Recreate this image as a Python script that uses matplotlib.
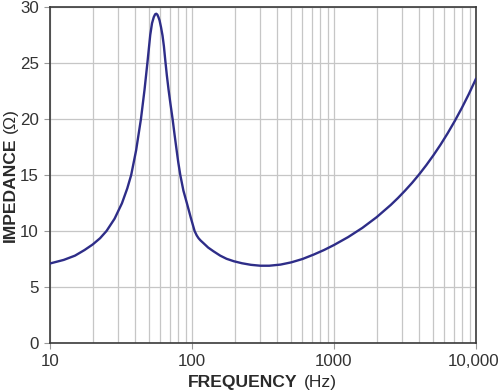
import matplotlib
matplotlib.use("Agg")
import matplotlib.pyplot as plt
import matplotlib.transforms as mtransforms
from matplotlib.ticker import FixedLocator, NullFormatter, LogLocator

plt.rcParams['font.family'] = ['Liberation Sans', 'DejaVu Sans']

# values (Hz, ohms)
freq = [10, 12.5, 15, 17.5, 20, 22.5, 25, 28.5, 32.1, 35, 37.3, 40.4, 43.7,
        46.3, 48.6, 50.8, 52.3, 53.8, 55, 56, 57, 58, 59.1, 60.5, 62, 63.4,
        64.8, 66.5, 68.4, 70.6, 73, 75.2, 77.4, 80, 82.7, 87, 92.2, 98,
        104.3, 108, 111.3, 115, 120.8, 130, 142, 158, 175, 197, 225, 260,
        303, 350, 420, 500, 600, 721, 850, 1000, 1259, 1585, 1995, 2512,
        2818, 3162, 3548, 3981, 4467, 5012, 5623, 6310, 7079, 7943, 8913,
        10000]
impedance = [7.1, 7.42, 7.8, 8.3, 8.8, 9.35, 10.0, 11.1, 12.47, 13.8, 15.0,
             17.2, 20.0, 22.6, 25.1, 27.5, 28.55, 29.1, 29.35, 29.4, 29.32,
             29.1, 28.8, 28.2, 27.45, 26.5, 25.27, 23.9, 22.6, 21.3, 20.0,
             18.7, 17.5, 16.15, 15.0, 13.6, 12.45, 11.2, 10.0, 9.6, 9.35,
             9.15, 8.9, 8.52, 8.18, 7.8, 7.52, 7.3, 7.12, 6.98, 6.9, 6.9,
             7.0, 7.2, 7.5, 7.9, 8.3, 8.75, 9.46, 10.28, 11.23, 12.33, 12.94,
             13.6, 14.3, 15.06, 15.88, 16.76, 17.7, 18.72, 19.81, 20.98,
             22.24, 23.6]

xticks = [10, 100, 1000, 10000]
xticklabels = ["10", "100", "1000", "10,000"]
yticks = [0, 5, 10, 15, 20, 25, 30]

fig = plt.figure(figsize=(5, 3.91), dpi=100)
ax = fig.add_axes([50 / 500, 48 / 391, 426 / 500, 336 / 391])

ax.plot(freq, impedance, color='#2e2d88', lw=1.7, zorder=3,
        solid_capstyle='round', solid_joinstyle='round')

ax.set_xscale('log')
ax.set_xlim(10, 10000)
ax.set_ylim(0, 30)

ax.xaxis.set_major_locator(FixedLocator(xticks))
ax.set_xticklabels(xticklabels)
ax.xaxis.set_minor_locator(LogLocator(base=10, subs=range(2, 10)))
ax.xaxis.set_minor_formatter(NullFormatter())
ax.set_yticks(yticks)

ax.grid(True, which='both', axis='x', color='#c6c6c6', lw=0.9, zorder=0)
ax.grid(True, which='major', axis='y', color='#c6c6c6', lw=0.9, zorder=0)

for s in ax.spines.values():
    s.set_color('#3a3a3a')
    s.set_linewidth(1.2)

ax.tick_params(which='major', length=4, width=0.8, color='#999999',
               labelsize=12.2, labelcolor='#333333', pad=4)
ax.tick_params(which='minor', length=0)

# nudge "10,000" a little left so it stays inside the figure
last = ax.get_xticklabels()[-1]
last.set_transform(last.get_transform() +
                   mtransforms.ScaledTranslation(-2 / 100, 0, fig.dpi_scale_trans))

# axis titles: bold word followed by plain unit
fig.text(188 / 500, (391 - 386.7) / 391, "FREQUENCY", fontsize=12.6,
         fontweight='bold', color='#2a2a2a', ha='left', va='baseline')
fig.text(304 / 500, (391 - 386.7) / 391, "(Hz)", fontsize=12.6,
         color='#2a2a2a', ha='left', va='baseline')

fig.text(14.5 / 500, (391 - 241.7) / 391, "IMPEDANCE", fontsize=12.6,
         fontweight='bold', color='#2a2a2a', rotation=90,
         rotation_mode='anchor', ha='left', va='baseline')
fig.text(14.5 / 500, (391 - 133.3) / 391, "(Ω)", fontsize=12.6,
         color='#2a2a2a', rotation=90, rotation_mode='anchor',
         ha='left', va='baseline')

fig.savefig("out.png", dpi=100)
